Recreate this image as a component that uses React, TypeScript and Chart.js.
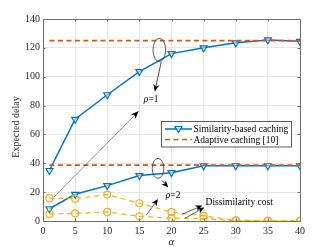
import React, { useEffect, useRef } from "react";
import { Chart, registerables } from "chart.js";
Chart.register(...registerables);

const alphaValues = [1, 5, 10, 15, 20, 25, 30, 35, 40];
const simRho1 = [35, 70.5, 87.5, 103.5, 116, 120, 123.5, 125.5, 124.5];
const adaptiveRho1 = [125, 125, 125, 125, 125, 125, 125, 125, 125];
const simRho2 = [8.5, 18.5, 24.5, 31.5, 33.5, 38.3, 38.3, 38.3, 38.3];
const adaptiveRho2 = [38.7, 38.7, 38.7, 38.7, 38.7, 38.7, 38.7, 38.7, 38.7];
const dissimRho1 = [15.8, 15.5, 18.3, 12.3, 6.2, 3.5, 0.5, 0.2, 0];
const dissimRho2 = [4.9, 5.3, 6.3, 3.3, 2.0, 1.6, 0.2, 0, 0];

const xTicks = [0, 5, 10, 15, 20, 25, 30, 35, 40];
const yTicks = [0, 20, 40, 60, 80, 100, 120, 140];

const legendLabels = ["Similarity-based caching", "Adaptive caching [10]"];
const xTitle = "α";
const yTitle = "Expected delay";
const rhoLabels = ["=1", "=2"];
const dissimText = "Dissimilarity cost";

const BLUE = "#0072BD";
const ORANGE = "#D95319";
const YELLOW = "#EDB120";
const AXIS = "#6f6f6f";
const TEXT = "#262626";
const SERIF = "'Liberation Serif', 'Times New Roman', serif";

const pts = (ys: number[]) => ys.map((y, i) => ({ x: alphaValues[i], y }));

function arrow(ctx: CanvasRenderingContext2D, x1: number, y1: number, x2: number, y2: number, lw: number, hl = 7, hw = 3) {
  const ang = Math.atan2(y2 - y1, x2 - x1);
  ctx.lineWidth = lw;
  ctx.beginPath();
  ctx.moveTo(x1, y1);
  ctx.lineTo(x2 - Math.cos(ang) * hl * 0.6, y2 - Math.sin(ang) * hl * 0.6);
  ctx.stroke();
  ctx.beginPath();
  ctx.moveTo(x2, y2);
  ctx.lineTo(x2 - Math.cos(ang) * hl - Math.sin(ang) * hw, y2 - Math.sin(ang) * hl + Math.cos(ang) * hw);
  ctx.lineTo(x2 - Math.cos(ang) * hl * 0.7, y2 - Math.sin(ang) * hl * 0.7);
  ctx.lineTo(x2 - Math.cos(ang) * hl + Math.sin(ang) * hw, y2 - Math.sin(ang) * hl - Math.cos(ang) * hw);
  ctx.closePath();
  ctx.fill();
}

const overlay = {
  id: "overlay",
  afterDraw(chart: any) {
    const { ctx, chartArea: a, scales } = chart;
    const X = (v: number) => scales.x.getPixelForValue(v);
    const Y = (v: number) => scales.y.getPixelForValue(v);
    ctx.save();
    // box
    ctx.strokeStyle = AXIS;
    ctx.lineWidth = 1;
    ctx.strokeRect(Math.round(a.left) + 0.5, Math.round(a.top) + 0.5, Math.round(a.right - a.left), Math.round(a.bottom - a.top));
    // inward ticks
    ctx.beginPath();
    xTicks.forEach((t) => {
      const px = Math.round(X(t)) + 0.5;
      ctx.moveTo(px, a.bottom); ctx.lineTo(px, a.bottom - 2.5);
      ctx.moveTo(px, a.top); ctx.lineTo(px, a.top + 2.5);
    });
    yTicks.forEach((t) => {
      const py = Math.round(Y(t)) + 0.5;
      ctx.moveTo(a.left, py); ctx.lineTo(a.left + 2.5, py);
      ctx.moveTo(a.right, py); ctx.lineTo(a.right - 2.5, py);
    });
    ctx.stroke();

    // axis titles
    ctx.fillStyle = TEXT;
    ctx.font = `italic 11px ${SERIF}`;
    ctx.textAlign = "center";
    ctx.textBaseline = "middle";
    ctx.fillText(xTitle, (a.left + a.right) / 2, 242);
    ctx.save();
    ctx.translate(16, (a.top + a.bottom) / 2 + 7);
    ctx.rotate(-Math.PI / 2);
    ctx.font = `10px ${SERIF}`;
    ctx.fillText(yTitle, 0, 0);
    ctx.restore();

    // legend
    const lx = 161.5, ly = 121.5, lw = 130, lh = 25.5;
    ctx.fillStyle = "#fff";
    ctx.fillRect(lx, ly, lw, lh);
    ctx.strokeStyle = "#333";
    ctx.lineWidth = 0.8;
    ctx.strokeRect(lx, ly, lw, lh);
    const r1 = ly + 7.5, r2 = ly + 18;
    ctx.strokeStyle = BLUE; ctx.lineWidth = 1.5;
    ctx.beginPath(); ctx.moveTo(lx + 3.5, r1); ctx.lineTo(lx + 30.5, r1); ctx.stroke();
    ctx.lineWidth = 1.2;
    ctx.beginPath();
    const mx = lx + 17;
    ctx.moveTo(mx - 3.5, r1 - 2.5); ctx.lineTo(mx + 3.5, r1 - 2.5); ctx.lineTo(mx, r1 + 3.5); ctx.closePath();
    ctx.fillStyle = "rgba(255,255,255,0.6)"; ctx.fill(); ctx.stroke();
    ctx.strokeStyle = ORANGE; ctx.lineWidth = 1.6; ctx.setLineDash([5, 3.5]);
    ctx.beginPath(); ctx.moveTo(lx + 3.5, r2); ctx.lineTo(lx + 30.5, r2); ctx.stroke();
    ctx.setLineDash([]);
    ctx.fillStyle = "#000";
    ctx.font = `9.5px ${SERIF}`;
    ctx.textAlign = "left";
    ctx.fillText(legendLabels[0], lx + 32, r1 + 0.5);
    ctx.fillText(legendLabels[1], lx + 32, r2 + 0.5);

    // annotations
    ctx.strokeStyle = "#333";
    ctx.fillStyle = "#000";
    ctx.lineWidth = 0.8;
    ctx.beginPath(); ctx.ellipse(X(18.1), Y(118.5), 6.3, 11.7, 0, 0, Math.PI * 2); ctx.stroke();
    ctx.beginPath(); ctx.ellipse(X(17.9), Y(36.5), 5.8, 10, 0, 0, Math.PI * 2); ctx.stroke();
    ctx.strokeStyle = "#222";
    arrow(ctx, X(18.4), Y(110.3), X(17.4), Y(89.8), 0.8);
    arrow(ctx, X(18.5), Y(28.2), X(19.5), Y(23.3), 0.8);
    arrow(ctx, X(1.7), Y(16.6), X(14.9), Y(76.2), 0.5, 8, 3.2);
    arrow(ctx, X(16.1), Y(4.2), X(17.9), Y(15.2), 0.7);
    arrow(ctx, X(21.6), Y(4.6), X(24.8), Y(10.7), 0.7);
    arrow(ctx, X(22.1), Y(1.9), X(25.1), Y(9.4), 0.7);

    ctx.fillStyle = "#000";
    ctx.textAlign = "left";
    const rhoText = (xv: number, yv: number, s: string) => {
      ctx.font = `italic 9.5px ${SERIF}`;
      ctx.fillText("ρ", X(xv), Y(yv));
      const w = ctx.measureText("ρ").width;
      ctx.font = `9.5px ${SERIF}`;
      ctx.fillText(s, X(xv) + w, Y(yv));
    };
    rhoText(15.7, 84.5, rhoLabels[0]);
    rhoText(19.1, 17.5, rhoLabels[1]);
    ctx.font = `9.5px ${SERIF}`;
    ctx.fillText(dissimText, X(25.3), Y(13));
    ctx.restore();
  },
};

export default function App() {
  const ref = useRef<HTMLCanvasElement>(null);
  useEffect(() => {
    if (!ref.current) return;
    const tickFont = { family: SERIF, size: 10 };
    const chart = new Chart(ref.current, {
      type: "line",
      data: {
        datasets: [
          { label: "dissim1", data: pts(dissimRho1), borderColor: YELLOW, borderWidth: 1.2, borderDash: [5, 4], pointStyle: "circle", pointRadius: 3.5, pointBorderWidth: 1.2, pointBackgroundColor: "rgba(255,255,255,0)", pointBorderColor: YELLOW, backgroundColor: YELLOW },
          { label: "dissim2", data: pts(dissimRho2), borderColor: YELLOW, borderWidth: 1.2, borderDash: [5, 4], pointStyle: "circle", pointRadius: 3.5, pointBorderWidth: 1.2, pointBackgroundColor: "rgba(255,255,255,0)", pointBorderColor: YELLOW, backgroundColor: YELLOW },
          { label: "adaptive1", data: pts(adaptiveRho1), borderColor: ORANGE, borderWidth: 1.6, borderDash: [5, 3.5], pointRadius: 0 },
          { label: "adaptive2", data: pts(adaptiveRho2), borderColor: ORANGE, borderWidth: 1.6, borderDash: [5, 3.5], pointRadius: 0 },
          { label: "sim1", data: pts(simRho1), borderColor: BLUE, borderWidth: 1.5, pointStyle: "triangle", rotation: 180, pointRadius: 4, pointBorderWidth: 1.2, pointBackgroundColor: "rgba(255,255,255,0.5)", pointBorderColor: BLUE },
          { label: "sim2", data: pts(simRho2), borderColor: BLUE, borderWidth: 1.5, pointStyle: "triangle", rotation: 180, pointRadius: 4, pointBorderWidth: 1.2, pointBackgroundColor: "rgba(255,255,255,0.5)", pointBorderColor: BLUE },
        ] as any,
      },
      options: {
        animation: false,
        responsive: false,
        devicePixelRatio: 1,
        layout: { padding: { left: 0, right: 32, top: 19, bottom: 0 } },
        plugins: { legend: { display: false }, tooltip: { enabled: false }, title: { display: false } },
        scales: {
          x: {
            type: "linear",
            min: 0,
            max: 40,
            afterBuildTicks: (s: any) => { s.ticks = xTicks.map((v) => ({ value: v })); },
            afterFit: (s: any) => { s.height = 28; },
            grid: { color: "#e6e6e6", drawTicks: false, lineWidth: 1 },
            border: { display: false },
            ticks: { font: tickFont, color: TEXT, padding: 4, maxRotation: 0 },
          },
          y: {
            type: "linear",
            min: 0,
            max: 140,
            afterBuildTicks: (s: any) => { s.ticks = yTicks.map((v) => ({ value: v })); },
            afterFit: (s: any) => { s.width = 43; },
            grid: { color: "#e6e6e6", drawTicks: false, lineWidth: 1 },
            border: { display: false },
            ticks: { font: tickFont, color: TEXT, padding: 3 },
          },
        },
      } as any,
      plugins: [overlay],
    });
    return () => chart.destroy();
  }, []);
  return (
    <div style={{ position: "absolute", left: 0, top: 0, width: 332, height: 249, background: "#fff" }}>
      <canvas ref={ref} width={332} height={249} />
    </div>
  );
}
